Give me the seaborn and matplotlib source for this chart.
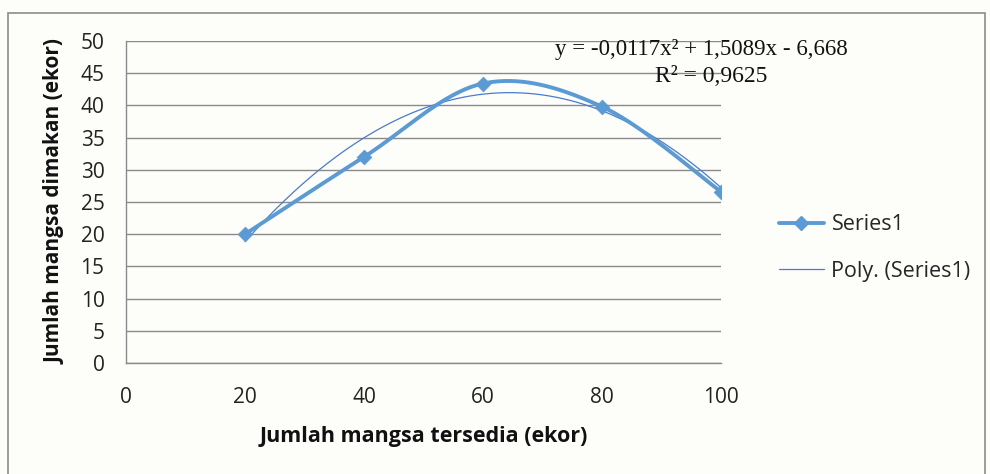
import numpy as np
import pandas as pd
import matplotlib
matplotlib.use("Agg")
import matplotlib.pyplot as plt
from matplotlib.lines import Line2D
from matplotlib.patches import Rectangle
import seaborn as sns

## data
prey_available = [20, 40, 60, 80, 100]
prey_eaten = [20.0, 32.0, 43.4, 39.8, 26.6]
poly_coef = [-0.0117, 1.5089, -6.668]
eq_text = "y = -0,0117x\u00b2 + 1,5089x - 6,668"
r2_text = "R\u00b2 = 0,9625"
x_ticks = [0, 20, 40, 60, 80, 100]
y_ticks = [0, 5, 10, 15, 20, 25, 30, 35, 40, 45, 50]

blue = "#5b9bd5"
trend_blue = "#4a7bd0"
grid_gray = "#8a8a8a"


def smooth_line(xs, ys, n=40):
    # excel style smoothed line (bezier, control points at 1/6 of neighbour diff)
    pts = np.column_stack([xs, ys]).astype(float)
    ext = np.vstack([pts[0], pts, pts[-1]])
    out = []
    for i in range(len(pts) - 1):
        p0, p1, p2, p3 = ext[i], ext[i + 1], ext[i + 2], ext[i + 3]
        c1 = p1 + (p2 - p0) / 6.0
        c2 = p2 - (p3 - p1) / 6.0
        t = np.linspace(0, 1, n)[:, None]
        seg = ((1 - t) ** 3) * p1 + 3 * ((1 - t) ** 2) * t * c1 + 3 * (1 - t) * t ** 2 * c2 + t ** 3 * p2
        out.append(seg if i == 0 else seg[1:])
    arr = np.vstack(out)
    return pd.DataFrame({"x": arr[:, 0], "y": arr[:, 1]})


sns.set_theme(style="white")
plt.rcParams["font.family"] = ["Open Sans", "DejaVu Sans"]

fig = plt.figure(figsize=(9.9, 4.74), dpi=100)
fig.patch.set_facecolor("#fdfdfa")
ax = fig.add_axes([0.1273, 0.2342, 0.601, 0.6793])
ax.set_facecolor("#fdfdfa")

## outer chart border
fig.patches.append(Rectangle((8 / 990, -0.01), 977 / 990, 1 - 13 / 474 + 0.01,
                             transform=fig.transFigure, fill=False,
                             edgecolor="#8c8c8c", linewidth=1.2))

## trendline
tx = np.linspace(prey_available[0], prey_available[-1], 200)
trend = pd.DataFrame({"x": tx, "y": np.polyval(poly_coef, tx)})
sns.lineplot(data=trend, x="x", y="y", ax=ax, color=trend_blue, linewidth=0.9,
             sort=False, zorder=3)

## smoothed series
curve = smooth_line(prey_available, prey_eaten)
sns.lineplot(data=curve, x="x", y="y", ax=ax, color=blue, linewidth=2.8,
             sort=False, zorder=4)
pts = pd.DataFrame({"x": prey_available, "y": prey_eaten})
sns.scatterplot(data=pts, x="x", y="y", ax=ax, color=blue, marker="D", s=55,
                edgecolor=blue, zorder=5)

## axes style
ax.set_xlim(0, 100)
ax.set_ylim(0, 50)
ax.set_xticks(x_ticks)
ax.set_yticks(y_ticks)
ax.yaxis.grid(True, color=grid_gray, linewidth=1.0)
ax.set_axisbelow(True)
for s in ["top", "right"]:
    ax.spines[s].set_visible(False)
for s in ["left", "bottom"]:
    ax.spines[s].set_color(grid_gray)
    ax.spines[s].set_linewidth(1.0)
ax.tick_params(axis="both", direction="out", length=6.5, width=1, color=grid_gray,
               labelsize=15, labelcolor="#222222")
ax.tick_params(axis="y", pad=9)
ax.tick_params(axis="x", pad=11)

ax.set_xlabel("Jumlah mangsa tersedia (ekor)", fontsize=15.5, fontweight="bold",
              color="#111111", labelpad=13)
ax.set_ylabel("Jumlah mangsa dimakan (ekor)", fontsize=15, fontweight="bold",
              color="#111111", labelpad=11)

## equation
fig.text(555 / 990, 1 - 50 / 474, eq_text, fontsize=16.5,
         family="Liberation Serif", ha="left", va="center", color="#111111")
fig.text(655 / 990, 1 - 76 / 474, r2_text, fontsize=17,
         family="Liberation Serif", ha="left", va="center", color="#111111")

## legend
handles = [Line2D([], [], color=blue, linewidth=2.8, marker="D", markersize=7),
           Line2D([], [], color=trend_blue, linewidth=0.9)]
fig.legend(handles, ["Series1", "Poly. (Series1)"], loc="center left",
           bbox_to_anchor=(0.767, 1 - 248 / 474), frameon=False, fontsize=15.5,
           handlelength=2.1, labelspacing=1.2, handletextpad=0.35)

fig.savefig("out.png", dpi=100, facecolor=fig.get_facecolor())
